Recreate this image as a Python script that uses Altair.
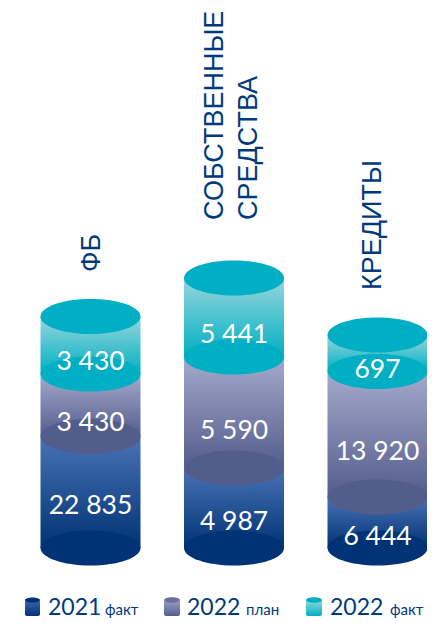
import altair as alt
import pandas as pd

categories = ["ФБ", "Собственные средства", "Кредиты"]
heights_2021 = [111.5, 80, 51]
heights_2022_plan = [62.5, 111, 125.5]
heights_2022_fact = [57.5, 79, 36.5]
labels_2021 = ["22 835", "4 987", "6 444"]
labels_2022_plan = ["3 430", "5 590", "13 920"]
labels_2022_fact = ["3 430", "5 441", "697"]

W, H = 419, 613
BASE = 540  # plot-area y of the cylinder base
NAVY = "#003A7D"
FONT = "Lato"

rows = []
for i, c in enumerate(categories):
    h0 = heights_2021[i]
    h1 = h0 + heights_2022_plan[i]
    h2 = h1 + heights_2022_fact[i]
    rows.append(dict(cat=c, s=0, lo=0, hi=h0, label=labels_2021[i]))
    rows.append(dict(cat=c, s=1, lo=h0, hi=h1, label=labels_2022_plan[i]))
    rows.append(dict(cat=c, s=2, lo=h1, hi=h2, label=labels_2022_fact[i]))
df = pd.DataFrame(rows)
df["mid"] = (df.lo + df.hi) / 2

x_enc = alt.X("cat:N", scale=alt.Scale(type="point", domain=categories, range=[82.5, 369.5], padding=0), axis=None)
y_scale = alt.Scale(domain=[-(H - BASE), BASE], range=[H, 0], nice=False, zero=False)


def grad(a, b):
    return alt.LinearGradient(gradient="linear", x1=0, x2=0, y1=0, y2=1,
                              stops=[alt.GradientStop(offset=0, color=a), alt.GradientStop(offset=1, color=b)])


ELL = "M-1,0 A1,0.35 0 1 1 1,0 A1,0.35 0 1 1 -1,0 Z"
series = [
    (0, "#4A72B6", "#003375", 14),
    (1, "#A5AACD", "#535D8B", 18),
    (2, "#97D6DD", "#00AFC3", 17),
]
layers = []
for s, a, b, dy in series:
    d = df[df.s == s]
    base = alt.Chart(d)
    layers.append(base.mark_bar(size=100, color=grad(a, b)).encode(
        x=x_enc, y=alt.Y("hi:Q", scale=y_scale, axis=None), y2="lo:Q"))
    layers.append(base.mark_point(shape=ELL, size=10000, filled=True, color=b, opacity=1, strokeWidth=0).encode(
        x=x_enc, y=alt.Y("lo:Q", scale=y_scale, axis=None)))
layers.append(alt.Chart(df[df.s == 2]).mark_point(shape=ELL, size=10000, filled=True, color="#00AFC3", opacity=1, strokeWidth=0).encode(
    x=x_enc, y=alt.Y("hi:Q", scale=y_scale, axis=None)))
for s, a, b, dy in series:
    d = df[df.s == s]
    layers.append(alt.Chart(d).mark_text(font=FONT, fontSize=26.5, fontWeight=400, color="white", dy=dy).encode(
        x=x_enc, y=alt.Y("mid:Q", scale=y_scale, axis=None), text="label:N"))

# rotated category headings
headings = [("ФБ", 84, 264), ("СОБСТВЕННЫЕ", 206.5, 212), ("СРЕДСТВА", 241, 212), ("КРЕДИТЫ", 365, 282)]
for t, px, py in headings:
    layers.append(alt.Chart(pd.DataFrame({"t": [t]})).mark_text(
        font="Liberation Sans", fontSize=27, color=NAVY, angle=270, align="left", baseline="middle").encode(
        x=alt.value(px), y=alt.value(py), text="t:N"))

# legend
legend = [
    (25, 40, "#003375", "#3E66AC", "#003375", "2021", "факт", 40, 97),
    (164, 180, "#6A709D", "#9CA1C6", "#535D8B", "2022", "план", 179, 238),
    (306, 322, "#00AFC3", "#97D6DD", "#00AFC3", "2022", "факт", 322, 382),
]
for x0, x1, cap, lite, dark, t1, t2, tx1, tx2 in legend:
    cx = (x0 + x1) / 2 - 8
    one = alt.Chart(pd.DataFrame({"t": [t1], "u": [t2]}))
    layers.append(one.mark_rect(color=grad(lite, dark), cornerRadius=2).encode(
        x=alt.value(x0 - 8), x2=alt.value(x1 - 8), y=alt.value(592), y2=alt.value(608)))
    layers.append(one.mark_point(shape=ELL, size=(x1 - x0) ** 2, filled=True, color=cap, opacity=1, strokeWidth=0).encode(
        x=alt.value(cx), y=alt.value(592)))
    layers.append(one.mark_text(font=FONT, fontSize=23, color=NAVY, align="left", baseline="alphabetic").encode(
        x=alt.value(tx1), y=alt.value(607), text="t:N"))
    layers.append(one.mark_text(font=FONT, fontSize=15, color=NAVY, align="left", baseline="alphabetic").encode(
        x=alt.value(tx2), y=alt.value(607), text="u:N"))

chart = alt.layer(*layers).properties(
    width=W, height=H, padding=0, autosize=alt.AutoSizeParams(type="none"), background="white"
).configure_view(strokeWidth=0)

chart.save("out.html", embed_options={"renderer": "svg", "actions": False})
